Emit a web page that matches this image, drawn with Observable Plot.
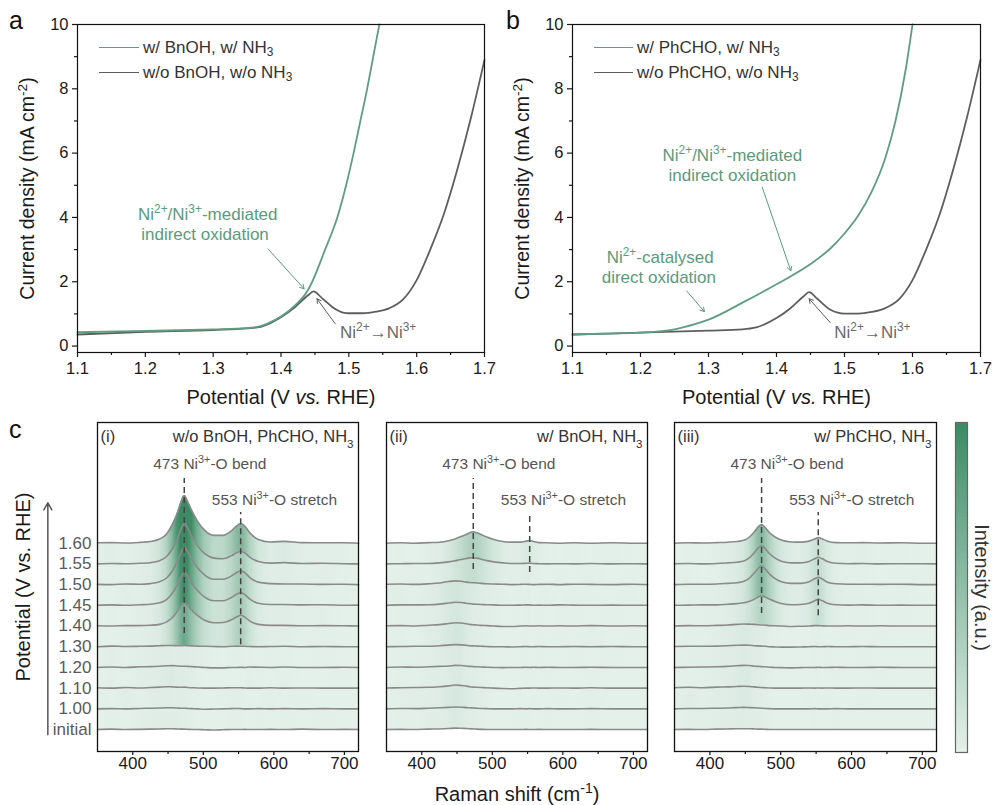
<!DOCTYPE html>
<html><head><meta charset="utf-8">
<script src="https://cdn.jsdelivr.net/npm/d3@7"></script>
<script src="https://cdn.jsdelivr.net/npm/@observablehq/plot@0.6"></script>
<style>
html,body{margin:0;padding:0;background:#fff;}
#root{position:relative;width:992px;height:805px;overflow:hidden;background:#fff;font-family:'Liberation Sans',Arial,sans-serif;}
</style></head><body><div id="root"></div>
<script>
const FONT = "'Liberation Sans', Arial, Helvetica, sans-serif";
const GREEN = "#5f9d82", GRAY = "#5e5e5e", NOTE_GREEN = "#5a9b7c", NOTE_GRAY = "#6a6a6a";
const LIGHT = "#e4f0ea", DARK = "#3a8a63";

// ---------- Panel a / b data (potential V vs RHE, current density mA cm-2) ----------
const ivXMajor = [1.1, 1.2, 1.3, 1.4, 1.5, 1.6, 1.7];
const ivXMinor = [1.15, 1.25, 1.35, 1.45, 1.55, 1.65];
const ivYMajor = [0, 2, 4, 6, 8, 10];
const ivYMinor = [1, 3, 5, 7, 9];
const ivXTitle = "Potential (V ~{vs.} RHE)";
const ivYTitle = "Current density (mA cm^{-2})";

const aWithV = [1.1, 1.2, 1.3, 1.35, 1.37, 1.38, 1.4, 1.42, 1.44, 1.446, 1.465, 1.483, 1.496, 1.507, 1.517, 1.527, 1.536, 1.545];
const aWithJ = [0.43, 0.47, 0.52, 0.56, 0.62, 0.7, 0.92, 1.25, 1.75, 2.0, 3.0, 4.0, 5.0, 6.0, 7.0, 8.0, 9.0, 10.0];
const aWoV = [1.1, 1.2, 1.3, 1.35, 1.37, 1.4, 1.42, 1.44, 1.448, 1.46, 1.48, 1.49, 1.5, 1.52, 1.54, 1.56, 1.58, 1.6, 1.62, 1.64, 1.66, 1.68, 1.7];
const aWoJ = [0.36, 0.44, 0.5, 0.55, 0.6, 0.9, 1.2, 1.58, 1.7, 1.5, 1.15, 1.05, 1.02, 1.02, 1.07, 1.18, 1.45, 2.05, 3.0, 4.1, 5.5, 7.1, 8.9];

const bWithV = [1.1, 1.15, 1.2, 1.25, 1.28, 1.3, 1.35, 1.4, 1.45, 1.48, 1.5, 1.52, 1.54, 1.56, 1.575, 1.59, 1.6];
const bWithJ = [0.36, 0.39, 0.42, 0.52, 0.68, 0.82, 1.35, 1.92, 2.55, 3.05, 3.5, 4.05, 4.8, 5.85, 7.0, 8.6, 10.0];
const bWoV = [1.1, 1.2, 1.3, 1.35, 1.37, 1.4, 1.42, 1.44, 1.448, 1.46, 1.48, 1.49, 1.5, 1.52, 1.54, 1.56, 1.58, 1.6, 1.62, 1.64, 1.66, 1.68, 1.7];
const bWoJ = [0.36, 0.42, 0.48, 0.52, 0.58, 0.87, 1.17, 1.55, 1.68, 1.47, 1.12, 1.04, 1.01, 1.01, 1.06, 1.18, 1.45, 2.05, 3.0, 4.1, 5.5, 7.1, 8.9];

const seriesA = ["w/ BnOH, w/ NH_{3}", "w/o BnOH, w/o NH_{3}"];
const seriesB = ["w/ PhCHO, w/ NH_{3}", "w/o PhCHO, w/o NH_{3}"];

const notesA = [
  {x: 1.292, y: 4.08, text: "Ni^{2+}/Ni^{3+}-mediated", kind: "green"},
  {x: 1.288, y: 3.46, text: "indirect oxidation", kind: "green"},
  {x: 1.487, y: 0.41, text: "Ni^{2+}→Ni^{3+}", kind: "gray"}
];
const arrowsA = [
  {x1: 1.381, y1: 3.02, x2: 1.434, y2: 1.78, kind: "green"},
  {x1: 1.48, y1: 0.69, x2: 1.453, y2: 1.47, kind: "gray"}
];
const notesB = [
  {x: 1.335, y: 5.92, text: "Ni^{2+}/Ni^{3+}-mediated", kind: "green"},
  {x: 1.335, y: 5.30, text: "indirect oxidation", kind: "green"},
  {x: 1.229, y: 2.74, text: "Ni^{2+}-catalysed", kind: "green"},
  {x: 1.227, y: 2.12, text: "direct oxidation", kind: "green"},
  {x: 1.485, y: 0.41, text: "Ni^{2+}→Ni^{3+}", kind: "gray"}
];
const arrowsB = [
  {x1: 1.379, y1: 4.94, x2: 1.421, y2: 2.34, kind: "green"},
  {x1: 1.268, y1: 1.71, x2: 1.294, y2: 1.07, kind: "green"},
  {x1: 1.479, y1: 0.73, x2: 1.448, y2: 1.47, kind: "gray"}
];

// ---------- Panel c data (Raman) ----------
const ramanDomain = [350, 720];
const ramanXMajor = [400, 500, 600, 700];
const ramanXMinor = [450, 550, 650];
const rowLabels = ["1.60", "1.55", "1.50", "1.45", "1.40", "1.30", "1.20", "1.10", "1.00", "initial"];
const ramanX = [350,370,390,410,425,438,448,456,463,468,473,478,484,492,502,515,528,540,548,553,558,566,578,595,615,640,670,700,720];

const ramanI = [
  [0.02,0.03,0.01,0.04,0.08,0.2,0.45,0.9,1.45,1.95,2.3,2.0,1.55,1.05,0.62,0.38,0.38,0.6,0.85,0.95,0.85,0.5,0.18,0.06,0.09,0.03,0.02,0.02,0.0],
  [0.0,0.02,0.01,0.03,0.06,0.15,0.36,0.72,1.2,1.65,1.95,1.72,1.3,0.86,0.5,0.28,0.25,0.4,0.55,0.6,0.55,0.32,0.12,0.04,0.06,0.02,0.03,0.01,0.0],
  [0.01,0.0,0.03,0.02,0.05,0.14,0.32,0.66,1.1,1.52,1.8,1.58,1.2,0.8,0.46,0.26,0.26,0.42,0.6,0.66,0.6,0.34,0.12,0.05,0.03,0.03,0.01,0.02,0.0],
  [0.0,0.02,0.0,0.03,0.05,0.12,0.28,0.58,0.98,1.35,1.6,1.4,1.05,0.7,0.4,0.22,0.22,0.38,0.55,0.6,0.54,0.3,0.1,0.04,0.04,0.02,0.03,0.0,0.01],
  [0.01,0.0,0.02,0.02,0.04,0.08,0.2,0.4,0.7,0.96,1.15,1.0,0.75,0.5,0.28,0.16,0.17,0.3,0.45,0.52,0.45,0.24,0.08,0.03,0.03,0.01,0.02,0.01,0.0],
  [0.0,0.03,0.01,0.02,0.03,0.05,0.06,0.06,0.05,0.05,0.06,0.05,0.04,0.03,0.02,0.01,0.0,0.02,0.03,0.02,0.02,0.01,0.0,0.01,0.02,0.0,0.01,0.0,0.0],
  [0.0,0.02,0.0,0.03,0.04,0.06,0.08,0.09,0.07,0.06,0.06,0.05,0.04,0.02,0.0,-0.02,-0.02,0.0,0.0,0.01,0.0,0.02,0.01,0.0,0.02,0.0,0.0,0.01,0.0],
  [0.02,0.0,0.03,0.01,0.03,0.05,0.07,0.06,0.05,0.04,0.05,0.03,0.02,0.01,0.0,0.0,0.01,0.02,0.02,0.02,0.01,0.0,0.0,0.02,0.0,0.01,0.0,0.0,0.0],
  [0.0,0.01,0.0,0.02,0.03,0.04,0.05,0.05,0.04,0.03,0.03,0.02,0.01,0.0,-0.02,-0.01,0.0,0.01,0.02,0.01,0.0,0.0,0.01,0.0,0.01,0.0,0.01,0.0,0.0],
  [0.0,0.02,0.0,0.01,0.02,0.03,0.04,0.04,0.03,0.02,0.02,0.01,0.0,0.0,-0.01,-0.02,-0.01,0.0,0.0,0.0,0.01,0.0,0.0,0.01,0.0,0.02,0.0,0.01,0.0]
];
const ramanII = [
  [0.0,0.02,0.0,0.03,0.05,0.12,0.22,0.32,0.42,0.5,0.55,0.5,0.42,0.3,0.18,0.08,0.05,0.05,0.1,0.13,0.08,0.03,0.02,0.0,0.02,0.0,0.02,0.0,0.0],
  [0.0,0.01,0.02,0.02,0.05,0.1,0.16,0.21,0.26,0.29,0.3,0.28,0.23,0.16,0.1,0.05,0.02,0.02,0.03,0.04,0.02,0.01,0.0,0.01,0.0,0.02,0.0,0.01,0.0],
  [0.02,0.03,0.01,0.04,0.08,0.15,0.18,0.16,0.12,0.1,0.09,0.08,0.06,0.04,0.03,0.02,0.0,0.01,0.02,0.01,0.0,0.01,0.02,0.0,0.02,0.01,0.0,0.02,0.0],
  [0.0,0.02,0.02,0.03,0.06,0.11,0.15,0.14,0.1,0.08,0.06,0.05,0.04,0.03,0.02,0.0,0.0,0.01,0.02,0.02,0.0,0.01,0.0,0.02,0.01,0.0,0.01,0.0,0.0],
  [0.01,0.02,0.0,0.04,0.07,0.12,0.16,0.15,0.11,0.08,0.06,0.05,0.03,0.02,0.0,-0.02,-0.02,0.0,0.01,0.0,0.0,0.01,0.0,0.01,0.0,0.02,0.0,0.01,0.0],
  [0.0,0.01,0.02,0.02,0.05,0.08,0.1,0.09,0.07,0.05,0.04,0.03,0.02,0.01,0.0,0.0,-0.01,0.0,0.01,0.0,0.0,0.01,0.0,0.0,0.01,0.0,0.01,0.0,0.0],
  [0.0,0.02,0.01,0.03,0.05,0.07,0.1,0.09,0.07,0.05,0.04,0.03,0.02,0.01,0.0,-0.01,0.0,0.0,0.01,0.0,0.01,0.0,0.01,0.0,0.0,0.01,0.0,0.0,0.0],
  [0.01,0.02,0.03,0.04,0.07,0.11,0.15,0.13,0.1,0.07,0.05,0.04,0.03,0.02,0.0,-0.02,-0.03,-0.01,0.0,0.0,0.01,0.0,0.0,0.01,0.0,0.02,0.0,0.0,0.0],
  [0.0,0.02,0.01,0.03,0.05,0.07,0.09,0.08,0.06,0.05,0.04,0.03,0.02,0.01,0.0,0.0,0.0,0.01,0.0,0.01,0.0,0.0,0.01,0.0,0.0,0.01,0.0,0.0,0.0],
  [0.0,0.01,0.0,0.02,0.03,0.05,0.07,0.06,0.05,0.04,0.03,0.02,0.01,0.0,0.0,0.0,0.0,0.0,0.01,0.0,0.0,0.01,0.0,0.0,0.0,0.01,0.0,0.0,0.0]
];
const ramanIII = [
  [0.0,0.02,0.01,0.03,0.05,0.08,0.14,0.3,0.55,0.78,0.9,0.76,0.52,0.3,0.14,0.06,0.05,0.1,0.2,0.27,0.22,0.1,0.03,0.02,0.03,0.01,0.02,0.0,0.0],
  [0.01,0.02,0.0,0.02,0.05,0.08,0.14,0.3,0.55,0.76,0.88,0.74,0.5,0.28,0.12,0.05,0.05,0.12,0.25,0.32,0.26,0.12,0.03,0.01,0.02,0.0,0.01,0.01,0.0],
  [0.0,0.02,0.02,0.03,0.06,0.09,0.16,0.32,0.57,0.78,0.9,0.76,0.52,0.29,0.13,0.06,0.06,0.14,0.28,0.35,0.28,0.12,0.04,0.02,0.02,0.01,0.02,0.0,0.0],
  [0.0,0.01,0.02,0.02,0.05,0.08,0.12,0.2,0.3,0.4,0.45,0.4,0.3,0.18,0.08,0.03,0.04,0.1,0.22,0.29,0.23,0.1,0.03,0.01,0.02,0.0,0.01,0.0,0.0],
  [0.0,0.02,0.01,0.03,0.05,0.08,0.1,0.09,0.08,0.06,0.05,0.04,0.02,0.01,0.0,-0.02,-0.01,0.0,0.02,0.02,0.01,0.0,0.0,0.01,0.0,0.01,0.0,0.0,0.0],
  [0.01,0.02,0.02,0.03,0.05,0.07,0.08,0.07,0.05,0.04,0.03,0.02,0.0,-0.01,-0.02,-0.02,-0.01,0.0,0.01,0.0,0.0,0.01,0.0,0.0,0.01,0.0,0.0,0.0,0.0],
  [0.0,0.01,0.02,0.03,0.05,0.08,0.1,0.09,0.06,0.05,0.04,0.03,0.01,0.0,-0.01,-0.02,-0.01,0.0,0.0,0.01,0.0,0.0,0.01,0.0,0.0,0.01,0.0,0.0,0.0],
  [0.02,0.04,0.02,0.05,0.06,0.08,0.09,0.08,0.06,0.04,0.03,0.02,0.01,0.0,0.0,0.0,0.0,0.01,0.0,0.01,0.0,0.01,0.0,0.0,0.01,0.0,0.0,0.0,0.0],
  [0.0,0.02,0.02,0.03,0.04,0.06,0.07,0.06,0.05,0.04,0.03,0.02,0.01,0.0,0.0,0.0,0.0,0.0,0.01,0.0,0.0,0.0,0.01,0.0,0.0,0.0,0.0,0.0,0.0],
  [0.0,0.01,0.0,0.02,0.03,0.04,0.04,0.04,0.03,0.02,0.02,0.01,0.0,0.0,0.0,0.0,0.0,0.0,0.0,0.0,0.0,0.0,0.0,0.0,0.0,0.0,0.0,0.0,0.0]
];
const peakLabels = [
  {x: 429, y: 12.8, text: "473 Ni^{3+}-O bend"},
  {x: 512, y: 11.1, text: "553 Ni^{3+}-O stretch"}
];
const dashesI = [{x: 473, y1: 4.64, y2: 12.13}, {x: 553, y1: 4.1, y2: 10.48}];
const dashesII = [{x: 473, y1: 7.73, y2: 12.13}, {x: 553, y1: 7.58, y2: 10.4}];
const dashesIII = [{x: 473, y1: 5.6, y2: 12.13}, {x: 553, y1: 5.5, y2: 10.48}];
const potArrow = [{x1: 279.6, y1: -0.25, x2: 279.6, y2: 10.95}];
const heatDomain = [0, 1.6];

// ---------- helpers ----------
const root = document.getElementById("root");
function place(el, left, top) {
  el.style.position = "absolute"; el.style.left = left + "px"; el.style.top = top + "px";
  el.style.maxWidth = "none";
  root.appendChild(el);
  return el;
}
function richify(svg) {
  const NS = "http://www.w3.org/2000/svg";
  svg.querySelectorAll("text, tspan").forEach(el => {
    if (el.children.length) return;
    const s = el.textContent;
    if (!/[\^_~]\{/.test(s)) return;
    el.textContent = "";
    const add = (txt, kind) => {
      const t = document.createElementNS(NS, "tspan");
      t.textContent = txt;
      if (kind === "^") { t.setAttribute("baseline-shift", "super"); t.setAttribute("font-size", "70%"); }
      else if (kind === "_") { t.setAttribute("baseline-shift", "sub"); t.setAttribute("font-size", "70%"); }
      else if (kind === "~") { t.setAttribute("font-style", "italic"); }
      el.appendChild(t);
    };
    const re = /([\^_~])\{([^}]*)\}/g; let last = 0, m;
    while ((m = re.exec(s))) { if (m.index > last) add(s.slice(last, m.index)); add(m[2], m[1]); last = re.lastIndex; }
    if (last < s.length) add(s.slice(last));
  });
  return svg;
}
function htmlRich(s) {
  return s.replace(/_\{([^}]*)\}/g, '<sub style="font-size:70%;vertical-align:-3px;line-height:0">$1</sub>')
          .replace(/\^\{([^}]*)\}/g, '<sup style="font-size:70%;vertical-align:5px;line-height:0">$1</sup>');
}
function legendRow(lineLeft, textLeft, cy, color, label) {
  const line = document.createElement("div");
  line.style.cssText = `width:${textLeft - lineLeft - 4}px;height:0;border-top:1.8px solid ${color};`;
  place(line, lineLeft, cy - 1);
  const t = document.createElement("div");
  t.style.cssText = `font:17px ${FONT};color:#333;white-space:nowrap;line-height:20px;`;
  t.innerHTML = htmlRich(label);
  place(t, textLeft, cy - 10);
}
function letter(ch, left, top) {
  const d = document.createElement("div");
  d.style.cssText = `font:25px ${FONT};color:#111;line-height:25px;`;
  d.textContent = ch;
  place(d, left, top);
}

// ---------- panels a, b ----------
function ivPanel(cfg) {
  return richify(Plot.plot({
    width: 496, height: 410, marginLeft: cfg.ml, marginRight: cfg.mr, marginTop: 24, marginBottom: 58,
    x: {domain: [1.1, 1.7]}, y: {domain: [-0.2, 10]},
    style: {fontFamily: FONT, color: "#1a1a1a", background: "transparent", overflow: "visible"},
    marks: [
      Plot.axisX({ticks: ivXMajor, tickSize: 5, tickPadding: 5, fontSize: 16.5, tickFormat: d3.format(".1f"), label: null, strokeWidth: 1.2}),
      Plot.axisX({ticks: ivXMinor, tickSize: 3, tickFormat: () => "", label: null, strokeWidth: 1.2}),
      Plot.axisY({ticks: ivYMajor, tickSize: 5, tickPadding: 4, fontSize: 16.5, label: null, strokeWidth: 1.2}),
      Plot.axisY({ticks: ivYMinor, tickSize: 3, tickFormat: () => "", label: null, strokeWidth: 1.2}),
      Plot.text([ivXTitle], {text: d => d, frameAnchor: "bottom", dy: 45, fontSize: 20, fill: "#1a1a1a", textAnchor: "middle", lineAnchor: "middle"}),
      Plot.text([ivYTitle], {text: d => d, frameAnchor: "left", dx: -50, rotate: -90, fontSize: 19.5, fill: "#1a1a1a", textAnchor: "middle", lineAnchor: "middle"}),
      Plot.line(cfg.woJ, {x: cfg.woV, y: cfg.woJ, stroke: GRAY, strokeWidth: 1.8, curve: "monotone-x"}),
      Plot.line(cfg.wJ, {x: cfg.wV, y: cfg.wJ, stroke: GREEN, strokeWidth: 1.8, curve: "monotone-x"}),
      Plot.arrow(cfg.arrows.filter(d => d.kind === "green"), {x1: "x1", y1: "y1", x2: "x2", y2: "y2", stroke: NOTE_GREEN, strokeWidth: 1, headLength: 7}),
      Plot.arrow(cfg.arrows.filter(d => d.kind === "gray"), {x1: "x1", y1: "y1", x2: "x2", y2: "y2", stroke: GRAY, strokeWidth: 1, headLength: 7}),
      Plot.text(cfg.notes.filter(d => d.kind === "green"), {x: "x", y: "y", text: "text", fill: NOTE_GREEN, fontSize: 17}),
      Plot.text(cfg.notes.filter(d => d.kind === "gray"), {x: "x", y: "y", text: "text", fill: NOTE_GRAY, fontSize: 17, textAnchor: "start"}),
      Plot.frame({stroke: "#111", strokeWidth: 1.2})
    ]
  }));
}
place(ivPanel({ml: 77, mr: 12, wV: aWithV, wJ: aWithJ, woV: aWoV, woJ: aWoJ, notes: notesA, arrows: arrowsA}), 0, 0);
place(ivPanel({ml: 76, mr: 12, wV: bWithV, wJ: bWithJ, woV: bWoV, woJ: bWoJ, notes: notesB, arrows: arrowsB}), 496, 0);
legendRow(99, 143, 48, GREEN, seriesA[0]);
legendRow(99, 143, 73, GRAY, seriesA[1]);
legendRow(594, 637, 48, GREEN, seriesB[0]);
legendRow(594, 637, 73, GRAY, seriesB[1]);

// ---------- panel c ----------
const heat = Plot.scale({color: {type: "linear", domain: heatDomain, range: [LIGHT, DARK], clamp: true}});
function ramanPanel(cfg) {
  const {id, rows} = cfg;
  const n = rows.length;
  const marks = [];
  rows.forEach((r, i) => {
    const off = n - 1 - i;
    if (off === 0) return;
    marks.push(Plot.areaY(ramanX, {x: ramanX, y1: ramanX.map(() => off - 1), y2: r.map(v => off + v),
      fill: `url(#g-${id}-${i})`, curve: "monotone-x"}));
  });
  const lineData = rows.flatMap((r, i) => ramanX.map((x, j) => ({x, y: n - 1 - i + r[j], row: i})));
  marks.push(Plot.line(lineData, {x: "x", y: "y", z: "row", stroke: "#8a8a8a", strokeWidth: 1.6, curve: "monotone-x"}));
  marks.push(Plot.ruleX(cfg.dashes, {x: "x", y1: "y1", y2: "y2", stroke: "#444", strokeWidth: 1.5, strokeDasharray: "6,4"}));
  marks.push(Plot.text(peakLabels, {x: "x", y: "y", text: "text", textAnchor: "start", fontSize: 15.5, fill: "#555"}));
  marks.push(Plot.text([cfg.tag], {text: d => d, frameAnchor: "top-left", dx: 3, dy: 14, lineAnchor: "middle", textAnchor: "start", fontSize: 16.5, fill: "#333"}));
  marks.push(Plot.text([cfg.title], {text: d => d, frameAnchor: "top-right", dx: -5, dy: 14, lineAnchor: "middle", textAnchor: "end", fontSize: 16.5, fill: "#333"}));
  marks.push(Plot.axisX({ticks: ramanXMajor, tickSize: 4, tickPadding: 1, fontSize: 17, label: null, strokeWidth: 1.2}));
  marks.push(Plot.axisX({ticks: ramanXMinor, tickSize: 3, tickFormat: () => "", label: null, strokeWidth: 1.2}));
  if (cfg.showY) {
    marks.push(Plot.axisY({ticks: d3.range(n), tickFormat: d => rowLabels[n - 1 - d], tickSize: 0, tickPadding: 6, fontSize: 17, color: "#5a5a5a", label: null}));
    marks.push(Plot.text(["Potential (V vs. RHE)"], {text: d => d, frameAnchor: "left", dx: -74, rotate: -90, fontSize: 20, fill: "#1a1a1a", textAnchor: "middle", lineAnchor: "middle"}));
    marks.push(Plot.arrow(potArrow, {x1: "x1", y1: "y1", x2: "x2", y2: "y2", stroke: "#555", strokeWidth: 1.5, headLength: 8}));
  }
  if (cfg.showXTitle) {
    marks.push(Plot.text(["Raman shift (cm^{-1})"], {text: d => d, frameAnchor: "bottom", dy: 43, fontSize: 20, fill: "#1a1a1a", textAnchor: "middle", lineAnchor: "middle"}));
  }
  marks.push(Plot.frame({stroke: "#111", strokeWidth: 1.3}));
  const svg = Plot.plot({
    width: cfg.width, height: 395, marginLeft: cfg.ml, marginRight: cfg.mr, marginTop: 12, marginBottom: 54,
    x: {domain: ramanDomain}, y: {domain: [-1.06, 14.83], axis: cfg.showY ? undefined : null},
    style: {fontFamily: FONT, color: "#1a1a1a", background: "transparent", overflow: "visible"},
    marks
  });
  const defs = d3.select(svg).insert("defs", ":first-child");
  rows.forEach((r, i) => {
    const g = defs.append("linearGradient").attr("id", `g-${id}-${i}`)
      .attr("x1", "0").attr("x2", "1").attr("y1", "0").attr("y2", "0");
    ramanX.forEach((x, j) => g.append("stop")
      .attr("offset", (x - ramanDomain[0]) / (ramanDomain[1] - ramanDomain[0]))
      .attr("stop-color", heat.apply(r[j])));
  });
  return richify(svg);
}
place(ramanPanel({id: "i", rows: ramanI, width: 368, ml: 97, mr: 10, dashes: dashesI, tag: "(i)", title: "w/o BnOH, PhCHO, NH_{3}", showY: true}), 0, 410);
place(ramanPanel({id: "ii", rows: ramanII, width: 281, ml: 10, mr: 10, dashes: dashesII, tag: "(ii)", title: "w/ BnOH, NH_{3}", showXTitle: true}), 376, 410);
place(ramanPanel({id: "iii", rows: ramanIII, width: 282, ml: 10, mr: 10, dashes: dashesIII, tag: "(iii)", title: "w/ PhCHO, NH_{3}"}), 664, 410);

// colour bar
const cbStep = 0.02;
const cbSteps = d3.range(heatDomain[0], heatDomain[1], cbStep);
place(Plot.plot({
  width: 47, height: 395, marginLeft: 10, marginRight: 25, marginTop: 12, marginBottom: 53,
  x: {axis: null}, y: {domain: heatDomain, axis: null},
  color: {type: "linear", domain: heatDomain, range: [LIGHT, DARK]},
  style: {fontFamily: FONT, color: "#1a1a1a", background: "transparent", overflow: "visible"},
  marks: [
    Plot.rect(cbSteps, {y1: d => d, y2: d => Math.min(heatDomain[1], d + cbStep * 1.6), fill: d => d}),
    Plot.frame({stroke: "#666", strokeWidth: 1.2}),
    Plot.text(["Intensity (a.u.)"], {text: d => d, frameAnchor: "right", dx: 14, rotate: 90, fontSize: 20, fill: "#333", textAnchor: "middle", lineAnchor: "middle"})
  ]
}), 945, 410);

letter("a", 9, 8);
letter("b", 506, 8);
letter("c", 9, 417);
</script></body></html>
